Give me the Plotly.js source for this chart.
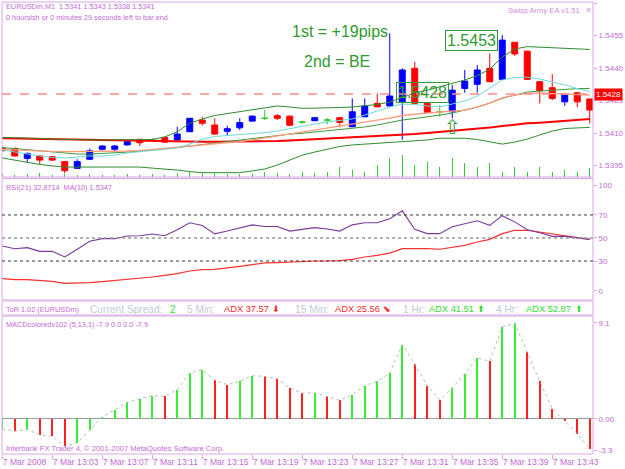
<!DOCTYPE html>
<html><head><meta charset="utf-8">
<script src="https://cdn.plot.ly/plotly-3.0.1.min.js"></script>
<style>html,body{margin:0;padding:0;background:#fff;overflow:hidden}#chart{width:625px;height:469px}</style>
</head><body><div id="chart"></div>
<script>
// ---------------- DATA ----------------
const times = ["12:59","13:00","13:01","13:02","13:03","13:04","13:05","13:06","13:07","13:08","13:09","13:10","13:11","13:12","13:13","13:14","13:15","13:16","13:17","13:18","13:19","13:20","13:21","13:22","13:23","13:24","13:25","13:26","13:27","13:28","13:29","13:30","13:31","13:32","13:33","13:34","13:35","13:36","13:37","13:38","13:39","13:40","13:41","13:42","13:43","13:44","13:45","13:46"];
const tickTimes = ["12:59","13:03","13:07","13:11","13:15","13:19","13:23","13:27","13:31","13:35","13:39","13:43"];
const tickText = ["7 Mar 2008","7 Mar 13:03","7 Mar 13:07","7 Mar 13:11","7 Mar 13:15","7 Mar 13:19","7 Mar 13:23","7 Mar 13:27","7 Mar 13:31","7 Mar 13:35","7 Mar 13:39","7 Mar 13:43"];

const openP  = [1.54032,1.54029,1.53983,1.53994,1.53991,1.53968,1.53937,1.53979,1.54025,1.54025,1.54045,1.54071,1.54068,1.54080,1.54068,1.54106,1.54160,1.54137,1.54108,1.54124,1.54155,1.54168,1.54180,1.54178,1.54151,1.54157,1.54160,1.54171,1.54129,1.54175,1.54237,1.54225,1.54244,1.54399,1.54237,1.54198,1.54198,1.54306,1.54325,1.54399,1.54348,1.54519,1.54478,1.54337,1.54309,1.54244,1.54286,1.54257];
const highP  = [1.54038,1.54033,1.54010,1.53998,1.53994,1.53971,1.53979,1.54029,1.54045,1.54045,1.54063,1.54072,1.54078,1.54082,1.54129,1.54169,1.54175,1.54168,1.54134,1.54168,1.54181,1.54206,1.54188,1.54181,1.54157,1.54174,1.54169,1.54174,1.54260,1.54260,1.54283,1.54560,1.54399,1.54429,1.54238,1.54229,1.54322,1.54391,1.54414,1.54468,1.54552,1.54520,1.54481,1.54340,1.54372,1.54278,1.54289,1.54259];
const lowP   = [1.54015,1.53992,1.53965,1.53956,1.53971,1.53914,1.53934,1.53975,1.54018,1.54014,1.54042,1.54040,1.54060,1.54056,1.54065,1.54105,1.54134,1.54093,1.54086,1.54114,1.54153,1.54160,1.54160,1.54132,1.54142,1.54155,1.54140,1.54126,1.54128,1.54174,1.54219,1.54223,1.54068,1.54236,1.54195,1.54175,1.54168,1.54286,1.54286,1.54335,1.54345,1.54455,1.54345,1.54237,1.54252,1.54225,1.54219,1.54145];
const closeP = [1.54018,1.53994,1.54006,1.53975,1.53975,1.53926,1.53968,1.54018,1.54040,1.54040,1.54060,1.54055,1.54068,1.54058,1.54095,1.54168,1.54145,1.54095,1.54120,1.54148,1.54178,1.54168,1.54168,1.54136,1.54151,1.54171,1.54160,1.54149,1.54198,1.54225,1.54221,1.54271,1.54391,1.54237,1.54196,1.54198,1.54298,1.54340,1.54391,1.54337,1.54529,1.54465,1.54348,1.54295,1.54260,1.54275,1.54244,1.54206];
const tickVolume = [3,2,3,4,2,3,2,3,2,2,3,2,3,2,4,5,4,4,3,3,3,5,4,3,5,4,5,10,7,5,12,19,22,12,15,10,19,14,10,14,5,10,5,10,5,7,5,9];

const bbUpper  = [1.54080,1.54079,1.54077,1.54075,1.54072,1.54070,1.54068,1.54068,1.54068,1.54068,1.54068,1.54068,1.54070,1.54082,1.54106,1.54145,1.54165,1.54181,1.54190,1.54199,1.54208,1.54218,1.54225,1.54220,1.54214,1.54215,1.54215,1.54218,1.54220,1.54225,1.54232,1.54243,1.54264,1.54285,1.54298,1.54314,1.54328,1.54345,1.54365,1.54395,1.54451,1.54488,1.54499,1.54497,1.54495,1.54492,1.54490,1.54486];
const bbMiddle = [1.54033,1.54028,1.54022,1.54017,1.54010,1.54005,1.54003,1.54003,1.54005,1.54008,1.54012,1.54017,1.54022,1.54026,1.54033,1.54040,1.54047,1.54054,1.54061,1.54068,1.54075,1.54082,1.54088,1.54095,1.54099,1.54105,1.54112,1.54116,1.54121,1.54128,1.54137,1.54148,1.54160,1.54167,1.54174,1.54183,1.54192,1.54206,1.54220,1.54238,1.54260,1.54275,1.54289,1.54294,1.54298,1.54303,1.54305,1.54306];
const bbLower  = [1.53985,1.53975,1.53964,1.53955,1.53948,1.53943,1.53943,1.53943,1.53943,1.53943,1.53943,1.53943,1.53938,1.53934,1.53929,1.53922,1.53917,1.53917,1.53917,1.53917,1.53925,1.53934,1.53952,1.53975,1.53998,1.54012,1.54026,1.54038,1.54045,1.54049,1.54054,1.54056,1.54060,1.54063,1.54068,1.54076,1.54076,1.54076,1.54070,1.54058,1.54049,1.54058,1.54072,1.54091,1.54109,1.54121,1.54125,1.54126];
const maFast   = [1.54022,1.54012,1.54001,1.53994,1.53987,1.53985,1.53989,1.53994,1.53994,1.53998,1.54008,1.54014,1.54019,1.54026,1.54031,1.54049,1.54072,1.54084,1.54088,1.54093,1.54095,1.54102,1.54109,1.54121,1.54132,1.54142,1.54151,1.54158,1.54165,1.54183,1.54202,1.54220,1.54234,1.54232,1.54225,1.54221,1.54234,1.54248,1.54271,1.54308,1.54345,1.54356,1.54358,1.54349,1.54337,1.54322,1.54305,1.54291];
const maMid    = [1.54025,1.54022,1.54019,1.54017,1.54015,1.54014,1.54014,1.54014,1.54014,1.54015,1.54017,1.54019,1.54024,1.54028,1.54033,1.54040,1.54046,1.54050,1.54055,1.54061,1.54068,1.54077,1.54086,1.54095,1.54105,1.54114,1.54123,1.54132,1.54142,1.54151,1.54160,1.54169,1.54181,1.54188,1.54192,1.54197,1.54202,1.54206,1.54220,1.54238,1.54262,1.54275,1.54283,1.54285,1.54282,1.54280,1.54278,1.54275];
const maSlow   = [1.54076,1.54075,1.54073,1.54072,1.54071,1.54070,1.54068,1.54067,1.54065,1.54064,1.54063,1.54063,1.54062,1.54061,1.54061,1.54060,1.54060,1.54060,1.54060,1.54060,1.54061,1.54062,1.54063,1.54065,1.54068,1.54070,1.54072,1.54076,1.54079,1.54082,1.54086,1.54088,1.54091,1.54095,1.54100,1.54105,1.54109,1.54114,1.54118,1.54125,1.54132,1.54139,1.54145,1.54148,1.54153,1.54158,1.54161,1.54165];

const entryLevel = 1.5428;
const priceTicks = [1.5395,1.5410,1.5425,1.5440,1.5455,1.5470];
const signalTimes = ["13:35"];
const signalPrices = [1.5412];

const rsi   = [43.0,40.7,41.6,38.4,38.4,33.5,40.2,47.1,49.4,49.4,51.7,52.0,53.5,52.0,57.2,63.2,60.9,53.6,56.0,58.6,61.4,60.0,60.0,56.0,57.8,59.0,57.8,56.0,61.4,63.2,63.2,66.7,73.6,57.5,53.8,53.8,59.7,62.5,65.0,61.0,69.4,64.0,57.2,54.6,51.4,51.4,50.3,48.8];
const rsiMA = [14.6,13.8,13.8,12.9,12.3,10.6,10.6,11.2,12.0,12.9,13.8,14.9,16.1,17.5,19.0,21.3,22.5,22.8,23.9,25.4,26.8,28.3,28.6,29.1,29.7,30.0,30.0,30.3,31.4,33.5,34.9,36.9,40.7,41.0,40.7,40.2,41.6,43.6,46.5,48.8,53.8,56.7,56.7,55.2,53.8,52.3,50.9,48.8];
const rsiLevels = [30,50,70];
const rsiTickVals = [4,30,50,70,96];
const rsiTickText = ["0","30","50","70","100"];

const macd = [-0.95,-1.17,-1.0,-1.5,-1.64,-2.6,-2.27,-1.0,0.19,0.88,1.58,1.93,2.2,2.15,2.78,4.36,4.68,3.67,3.25,3.57,4.1,4.04,3.82,2.94,2.44,2.48,2.15,1.77,2.3,3.16,3.57,4.36,7.05,5.24,3.16,1.83,2.94,4.3,5.78,5.47,8.72,9.05,6.35,3.57,0.98,-0.16,-1.39,-2.84];
const macdTickVals = [9.1,0,-3.0];
const macdTickText = ["9.1","0.00","-3.3"];

// ---------------- STYLE / LAYOUT ----------------
const W=625,H=469,ML=2,MR=32,MT=2,MB=15;
const PW=W-ML-MR, PH=H-MT-MB;
const fx=px=>(px-ML)/PW, fy=py=>(H-MB-py)/PH;
const PURPLE="#c46ad6", FRAME="#d9a6e6", GREEN="#2f9a2f", FONT="Liberation Sans";

const dojiIdx=[], bodyIdx=[];
times.forEach((t,i)=>{ (openP[i]===closeP[i]?dojiIdx:bodyIdx).push(i); });
const pick=(a,idx)=>idx.map(i=>a[i]);

const traces=[];
traces.push({type:'bar',x:times,y:tickVolume,yaxis:'y5',marker:{color:'#33cc33'},width:0.09,hoverinfo:'skip'});
traces.push({type:'candlestick',x:pick(times,bodyIdx),open:pick(openP,bodyIdx),high:pick(highP,bodyIdx),low:pick(lowP,bodyIdx),close:pick(closeP,bodyIdx),
  increasing:{line:{color:'#0000ff',width:1},fillcolor:'#0000ff'},decreasing:{line:{color:'#ff0000',width:1},fillcolor:'#ff0000'},whiskerwidth:0,hoverinfo:'skip'});
traces.push({type:'candlestick',x:pick(times,dojiIdx),open:pick(openP,dojiIdx),high:pick(highP,dojiIdx),low:pick(lowP,dojiIdx),close:pick(closeP,dojiIdx),
  increasing:{line:{color:'#22cc22',width:1}},decreasing:{line:{color:'#22cc22',width:1}},whiskerwidth:0,hoverinfo:'skip'});
const ln=(y,color,w,ax)=>({type:'scatter',mode:'lines',x:times,y:y,yaxis:ax||'y',line:{color:color,width:w},hoverinfo:'skip'});
traces.push(ln(maSlow,'#ff0000',2));
traces.push(ln(bbLower,'#2e8b2e',1));
traces.push(ln(bbUpper,'#2e8b2e',1));
traces.push(ln(bbMiddle,'#3a9a3a',1));
traces.push(ln(maMid,'#ff9a7a',1.3));
traces.push(ln(maFast,'#70d8d8',1));
traces.push({type:'scatter',mode:'text',x:signalTimes,y:signalPrices,text:signalTimes.map(()=>'⇧'),textfont:{size:20,color:GREEN,family:'DejaVu Sans'},hoverinfo:'skip'});
// RSI
traces.push(ln(rsiMA,'#ff3030',1.2,'y2'));
traces.push(ln(rsi,'#7a3a9a',1.1,'y2'));
// MACD
const macdColors=macd.map((v,i)=> (i===0||v>=macd[i-1])?'#33ee33':'#ff2020');
traces.push({type:'bar',x:times,y:macd,yaxis:'y4',marker:{color:macdColors},width:0.17,hoverinfo:'skip'});
traces.push({type:'scatter',mode:'lines',x:times,y:macd,yaxis:'y4',line:{color:'#bbbbbb',width:1,dash:'dot'},hoverinfo:'skip'});

const dMain=[fy(177),1], dRsi=[fy(300),fy(178.5)], dTor=[fy(315),fy(301)], dMacd=[0,fy(316)];
const yBase={side:'right',anchor:'x',showgrid:false,zeroline:false,showline:false,ticks:'outside',ticklen:3,tickcolor:FRAME,
  tickfont:{family:FONT,size:8,color:PURPLE},fixedrange:true};

const shapes=[];
[[dMain],[dRsi],[dTor],[dMacd]].forEach(([d])=>shapes.push({type:'rect',xref:'paper',yref:'paper',x0:0,x1:1,y0:d[0],y1:d[1],line:{color:FRAME,width:1},layer:'above'}));
rsiLevels.forEach(v=>shapes.push({type:'line',xref:'paper',yref:'y2',x0:0,x1:1,y0:v,y1:v,
  line:{color:v===50?'#999999':'#333333',width:v===50?1.5:1,dash:'dot'}}));
shapes.push({type:'line',xref:'paper',yref:'y',x0:0,x1:1,y0:entryLevel,y1:entryLevel,line:{color:'#ff8a8a',width:1.5,dash:'dash'}});

const ann=[];
const txt=(t,px,py,size,color,extra,fam)=>ann.push(Object.assign({text:t,xref:'paper',yref:'paper',x:fx(px),y:fy(py),xanchor:'left',yanchor:'middle',showarrow:false,
  font:{family:fam||FONT,size:size,color:color}},extra||{}));
txt('EURUSDm,M1  1.5341 1.5343 1.5338 1.5341',4,7,7.3,PURPLE);
txt('0 hoursish or 0 minutes 29 seconds left to bar end',4,17,7.3,PURPLE);
txt('Swiss Army EA v1.51',506,10,7.6,'#d58ae2');
txt('×',584,10,9,'#d58ae2');
txt('1st = +19pips',290,31,16,GREEN);
txt('2nd = BE',302,61,16,GREEN);
txt('1.5453',445,40.5,16,GREEN,{bordercolor:GREEN,borderwidth:1,borderpad:1});
txt('1.5428',396,92.5,16,GREEN,{bordercolor:GREEN,borderwidth:1,borderpad:1});
ann.push({text:entryLevel.toFixed(4),xref:'paper',yref:'y',x:1,y:entryLevel,xanchor:'left',yanchor:'middle',xshift:1,showarrow:false,
  bgcolor:'#ff0000',font:{family:FONT,size:8,color:'#ffffff'},borderpad:1});
txt('RSI(21) 32.8714  MA(10) 1.5347',4,187,7.3,PURPLE);
txt('MACDcoloredv102 (5,13,1) -7.9 0.0 0.0 -7.9',4,324,7.3,PURPLE);
txt('Interbank FX Trader 4, © 2001-2007 MetaQuotes Software Corp.',4,448,7.6,PURPLE);
const GRAY='#c4cad8', ADXR='#ff2a2a', ADXG='#33dd33';
const tor=[['ToR 1.02 (EURUSDm)',4,7.3,PURPLE],['Current Spread:',88,10.2,GRAY],['2',168,10.2,ADXG],['5 Min:',185,10.2,GRAY],
  ['ADX 37.57',222,9.3,ADXR],['⬇',270,9,ADXR,'DejaVu Sans'],['15 Min:',293,10.2,GRAY],['ADX 25.56',333,9.3,ADXR],['⬊',381,9,ADXR,'DejaVu Sans'],
  ['1 Hr:',401,10.2,GRAY],['ADX 41.51',427,9.3,ADXG],['⬆',475,9,ADXG,'DejaVu Sans'],['4 Hr:',494,10.2,GRAY],['ADX 52.87',524,9.3,ADXG],['⬆',573,9,ADXG,'DejaVu Sans']];
tor.forEach(s=>txt(s[0],s[1],309,s[2],s[3],null,s[4]));

const layout={width:W,height:H,margin:{l:ML,r:MR,t:MT,b:MB,pad:0},paper_bgcolor:'#ffffff',plot_bgcolor:'#ffffff',showlegend:false,
  bargap:0,boxgap:0.32,
  xaxis:{type:'category',anchor:'y4',range:[-0.02,47.26],tickvals:tickTimes,ticktext:tickText,tickangle:0,ticks:'outside',ticklen:4,tickcolor:FRAME,
    ticklabelposition:'outside right',tickfont:{family:FONT,size:8.6,color:PURPLE},showgrid:false,zeroline:false,showline:false,
    rangeslider:{visible:false},fixedrange:true,automargin:false},
  yaxis:Object.assign({},yBase,{domain:dMain,range:[1.53897,1.54705],tickvals:priceTicks,tickformat:'.4f'}),
  yaxis2:Object.assign({},yBase,{domain:dRsi,range:[-3.9,101.7],tickvals:rsiTickVals,ticktext:rsiTickText}),
  yaxis3:Object.assign({},yBase,{domain:dTor,range:[0,1],tickvals:[0.62,0.1],ticktext:['-9000000','9000000'],ticks:''}),
  yaxis4:Object.assign({},yBase,{domain:dMacd,range:[-3.32,9.76],tickvals:macdTickVals,ticktext:macdTickText,zeroline:true,zerolinecolor:'#999999',zerolinewidth:1}),
  yaxis5:{overlaying:'y',range:[0,175],visible:false,fixedrange:true},
  shapes:shapes,annotations:ann};
Plotly.newPlot('chart',traces,layout,{staticPlot:true,displayModeBar:false});
</script></body></html>
